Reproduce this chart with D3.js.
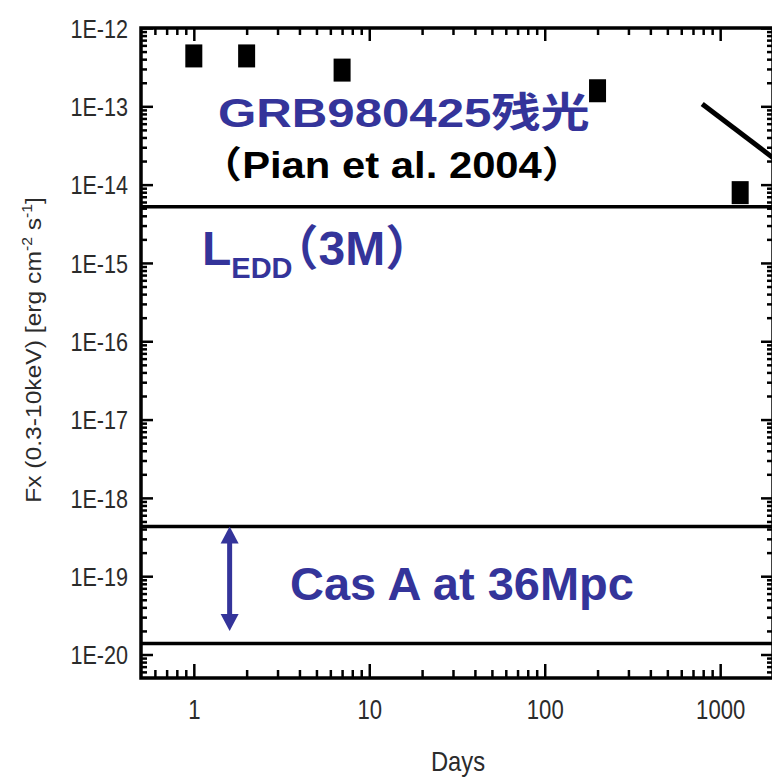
<!DOCTYPE html>
<html>
<head>
<meta charset="utf-8">
<script src="https://cdn.jsdelivr.net/npm/d3@7"></script>
<style>
body { margin: 0; background: #fff; }
svg { display: block; }
</style>
</head>
<body>
<svg id="chart" width="772" height="777"></svg>
<script>
// GRB980425 afterglow points
var days = [1, 2, 7, 200, 1300];
var flux = [4.4e-13, 4.4e-13, 2.9e-13, 1.58e-13, 7.9e-15];

// horizontal reference levels: L_EDD(3M), Cas A upper, Cas A lower
var levelFlux = [5.2e-15, 4.3e-19, 1.38e-20];

// sloped line at the right edge
var slopeDays = [790, 2000];
var slopeFlux = [1.07e-13, 2.2e-14];

// double arrow between the Cas A levels
var arrowDay = 1.6;
var arrowFlux = [4.3e-19, 2.0e-20];

var xTicks = [1, 10, 100, 1000];
var xTickLabels = ["1", "10", "100", "1000"];
var yTicks = [1e-12, 1e-13, 1e-14, 1e-15, 1e-16, 1e-17, 1e-18, 1e-19, 1e-20];
var yTickLabels = ["1E-12", "1E-13", "1E-14", "1E-15", "1E-16", "1E-17", "1E-18", "1E-19", "1E-20"];

var BLUE = "#34349a",
    AXISTXT = "#2b2b2b",
    FONT = "'Liberation Sans', Arial, 'Noto Sans CJK SC', sans-serif";

var svg = d3.select("#chart");

var x = d3.scaleLog().domain([0.5, 2000]).range([141, 773]);
var y = d3.scaleLog().domain([Math.pow(10, -20.3), 1e-12]).range([678, 28]);

var pLeft = x.range()[0], pRight = x.range()[1],
    pTop = y.range()[1], pBottom = y.range()[0];

// minor tick positions (2..9 in every decade)
var xMinor = [], yMinor = [];
for (var e = -1; e <= 3; e++) {
    for (var m = 2; m <= 9; m++) {
        var v = m * Math.pow(10, e);
        if (v > 0.5 && v < 2000) xMinor.push(v);
    }
}
for (var e = -21; e <= -13; e++) {
    for (var m = 2; m <= 9; m++) {
        var v = m * Math.pow(10, e);
        if (v > Math.pow(10, -20.3) && v < 1e-12) yMinor.push(v);
    }
}

// reference levels
svg.append("g").selectAll("line")
    .data(levelFlux)
  .enter().append("line")
    .attr("x1", pLeft).attr("x2", pRight)
    .attr("y1", function (d) { return y(d); })
    .attr("y2", function (d) { return y(d); })
    .attr("stroke", "#000")
    .attr("stroke-width", 3.5);

// sloped line
var slope = d3.line()
    .x(function (d) { return x(d[0]); })
    .y(function (d) { return y(d[1]); });

svg.append("path")
    .attr("d", slope(d3.zip(slopeDays, slopeFlux)))
    .attr("stroke", "#000")
    .attr("stroke-width", 5)
    .attr("fill", "none");

// data squares
svg.append("g").selectAll("rect")
    .data(d3.zip(days, flux))
  .enter().append("rect")
    .attr("x", function (d) { return x(d[0]) - 8.5; })
    .attr("y", function (d) { return y(d[1]) - 11.5; })
    .attr("width", 17)
    .attr("height", 23)
    .attr("fill", "#000");

// double arrow
var ax = x(arrowDay), aTop = y(arrowFlux[0]), aBot = y(arrowFlux[1]);
var head = 17, half = 9;
svg.append("line")
    .attr("x1", ax).attr("x2", ax)
    .attr("y1", aTop + head - 2).attr("y2", aBot - head + 2)
    .attr("stroke", BLUE).attr("stroke-width", 5);
svg.append("path")
    .attr("d", "M" + ax + "," + aTop + "L" + (ax + half) + "," + (aTop + head) + "L" + (ax - half) + "," + (aTop + head) + "Z")
    .attr("fill", BLUE);
svg.append("path")
    .attr("d", "M" + ax + "," + aBot + "L" + (ax + half) + "," + (aBot - head) + "L" + (ax - half) + "," + (aBot - head) + "Z")
    .attr("fill", BLUE);

// axes, ticks pointing inward
function styleAxis(g) {
    g.select(".domain").remove();
    g.selectAll(".tick line").attr("stroke", "#000").attr("stroke-width", 2.5);
}

svg.append("g").attr("transform", "translate(0," + pBottom + ")")
    .call(d3.axisBottom(x).tickValues(xMinor).tickSize(-8).tickSizeOuter(0).tickFormat(""))
    .call(styleAxis);
var xAx = svg.append("g").attr("transform", "translate(0," + pBottom + ")")
    .call(d3.axisBottom(x).tickValues(xTicks).tickSize(-14).tickSizeOuter(0)
        .tickFormat(function (d, i) { return xTickLabels[i]; }))
    .call(styleAxis);
xAx.selectAll("text")
    .attr("font-family", FONT).attr("font-size", 27).attr("fill", AXISTXT)
    .attr("dy", 0).attr("y", 41)
    .attr("transform", function () { return "scale(0.82,1)"; });

svg.append("g").attr("transform", "translate(0," + pTop + ")")
    .call(d3.axisTop(x).tickValues(xMinor).tickSize(-7).tickSizeOuter(0).tickFormat(""))
    .call(styleAxis);
svg.append("g").attr("transform", "translate(0," + pTop + ")")
    .call(d3.axisTop(x).tickValues(xTicks).tickSize(-13).tickSizeOuter(0).tickFormat(""))
    .call(styleAxis);

svg.append("g").attr("transform", "translate(" + pLeft + ",0)")
    .call(d3.axisLeft(y).tickValues(yMinor).tickSize(-6).tickSizeOuter(0).tickFormat(""))
    .call(styleAxis);
var yAx = svg.append("g").attr("transform", "translate(" + pLeft + ",0)")
    .call(d3.axisLeft(y).tickValues(yTicks).tickSize(-12).tickSizeOuter(0).tickPadding(13)
        .tickFormat(function (d, i) { return yTickLabels[i]; }))
    .call(styleAxis);
yAx.selectAll("text")
    .attr("font-family", FONT).attr("font-size", 26).attr("fill", AXISTXT)
    .attr("dy", "0.36em")
    .attr("x", -13 / 0.83)
    .attr("transform", "scale(0.83,1)");

svg.append("g").attr("transform", "translate(" + pRight + ",0)")
    .call(d3.axisRight(y).tickValues(yMinor).tickSize(-6).tickSizeOuter(0).tickFormat(""))
    .call(styleAxis);
svg.append("g").attr("transform", "translate(" + pRight + ",0)")
    .call(d3.axisRight(y).tickValues(yTicks).tickSize(-12).tickSizeOuter(0).tickFormat(""))
    .call(styleAxis);

// frame
svg.append("rect")
    .attr("x", pLeft).attr("y", pTop)
    .attr("width", pRight - pLeft).attr("height", pBottom - pTop)
    .attr("fill", "none").attr("stroke", "#000").attr("stroke-width", 3.5);

// axis titles
svg.append("text")
    .attr("transform", "translate(458,771) scale(0.88,1)")
    .attr("text-anchor", "middle")
    .attr("font-family", FONT).attr("font-size", 27).attr("fill", AXISTXT)
    .text("Days");

var yl = svg.append("text")
    .attr("transform", "translate(41,350) rotate(-90) scale(1.12,1)")
    .attr("text-anchor", "middle")
    .attr("font-family", FONT).attr("font-size", 22).attr("fill", AXISTXT);
yl.append("tspan").text("Fx (0.3-10keV) [erg cm");
yl.append("tspan").attr("dy", -9).attr("font-size", 14).text("-2");
yl.append("tspan").attr("dy", 9).text(" s");
yl.append("tspan").attr("dy", -9).attr("font-size", 14).text("-1");
yl.append("tspan").attr("dy", 9).text("]");

// annotations
svg.append("text")
    .attr("transform", "translate(218,127) scale(1.2,1)")
    .attr("font-family", FONT).attr("font-weight", "bold").attr("font-size", 41)
    .attr("fill", BLUE)
    .text("GRB980425残光");

svg.append("text")
    .attr("transform", "translate(392,178) scale(1.13,1)")
    .attr("text-anchor", "middle")
    .attr("font-family", FONT).attr("font-weight", "bold").attr("font-size", 37)
    .attr("fill", "#000")
    .text("（Pian et al. 2004）");

var ledd = svg.append("text")
    .attr("x", 202).attr("y", 265)
    .attr("font-family", FONT).attr("font-weight", "bold").attr("font-size", 48)
    .attr("fill", BLUE);
ledd.append("tspan").text("L");
ledd.append("tspan").attr("dy", 13).attr("font-size", 29).text("EDD");
ledd.append("tspan").attr("dx", -22).attr("dy", -13).text("（3M）");

svg.append("text")
    .attr("x", 290).attr("y", 600)
    .attr("font-family", FONT).attr("font-weight", "bold").attr("font-size", 47)
    .attr("fill", BLUE)
    .text("Cas A at 36Mpc");
</script>
</body>
</html>
